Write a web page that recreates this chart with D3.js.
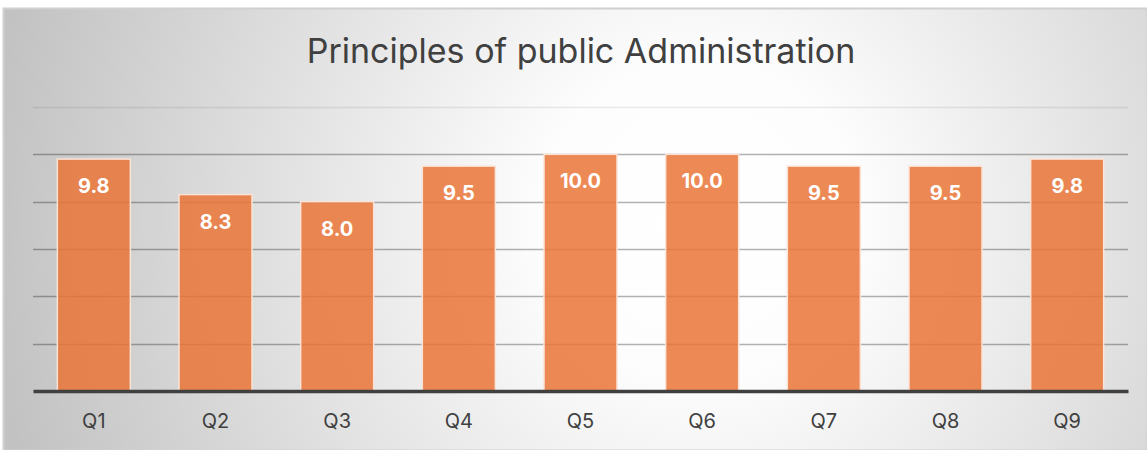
<!DOCTYPE html>
<html>
<head>
<meta charset="utf-8">
<script src="https://cdn.jsdelivr.net/npm/d3@7"></script>
<style>
  body { margin: 0; background: #fff; }
  svg { display: block; font-family: Inter, "Noto Sans", Arial, sans-serif; }
</style>
</head>
<body>
<script>
// Chart data
var categories = ["Q1", "Q2", "Q3", "Q4", "Q5", "Q6", "Q7", "Q8", "Q9"];
var scores = [9.8, 8.3, 8.0, 9.5, 10.0, 10.0, 9.5, 9.5, 9.8];
var yTicks = [0, 2, 4, 6, 8, 10, 12];
var chartTitle = "Principles of public Administration";

var svgWidth = 1147;
var svgHeight = 450;

// Plot area inside the frame
var margin = { top: 107, right: 19, bottom: 59, left: 33 };
var chartWidth = svgWidth - margin.left - margin.right;
var chartHeight = svgHeight - margin.top - margin.bottom;

var svg = d3.select("body")
  .append("svg")
  .attr("width", svgWidth)
  .attr("height", svgHeight);

// Radial gradient background
var defs = svg.append("defs");
var grad = defs.append("radialGradient")
  .attr("id", "bg")
  .attr("gradientUnits", "userSpaceOnUse")
  .attr("cx", 700).attr("cy", 220).attr("r", 720);
grad.append("stop").attr("offset", "0%").attr("stop-color", "#ffffff");
grad.append("stop").attr("offset", "22%").attr("stop-color", "#fdfdfd");
grad.append("stop").attr("offset", "100%").attr("stop-color", "#c2c2c2");

svg.append("rect")
  .attr("x", 3.5).attr("y", 8.5)
  .attr("width", svgWidth - 3).attr("height", svgHeight - 8)
  .attr("fill", "url(#bg)")
  .attr("stroke", "#d0d0d0")
  .attr("stroke-width", 2);

var chartGroup = svg.append("g")
  .attr("transform", `translate(${margin.left}, ${margin.top})`);

var xScale = d3.scaleBand()
  .domain(categories)
  .range([0, chartWidth])
  .paddingInner(0.4)
  .paddingOuter(0.2);

var yScale = d3.scaleLinear()
  .domain([0, 12])
  .range([chartHeight, 0]);

// Gridlines
chartGroup.append("g")
  .selectAll("line")
  .data(yTicks.filter(d => d > 0))
  .enter()
  .append("line")
  .attr("x1", 0)
  .attr("x2", chartWidth)
  .attr("y1", d => Math.round(yScale(d)) + 0.5)
  .attr("y2", d => Math.round(yScale(d)) + 0.5)
  .attr("stroke", "#000")
  .attr("stroke-opacity", d => d === 12 ? 0.08 : 0.3)
  .attr("stroke-width", 1.5);

// Bars
chartGroup.append("g")
  .selectAll("rect")
  .data(scores)
  .enter()
  .append("rect")
  .attr("x", (d, i) => xScale(categories[i]))
  .attr("y", d => yScale(d))
  .attr("width", xScale.bandwidth())
  .attr("height", d => chartHeight - yScale(d))
  .attr("fill", "#ea7437")
  .attr("fill-opacity", 0.85)
  .attr("stroke", "#fbe3d6")
  .attr("stroke-width", 1.5);

// Value labels
chartGroup.append("g")
  .selectAll("text")
  .data(scores)
  .enter()
  .append("text")
  .attr("x", (d, i) => xScale(categories[i]) + xScale.bandwidth() / 2)
  .attr("y", d => yScale(d) + 34)
  .attr("text-anchor", "middle")
  .attr("fill", "#ffffff")
  .attr("font-weight", "bold")
  .attr("font-size", "20px")
  .text(d => d.toFixed(1));

// X axis
var bottomAxis = d3.axisBottom(xScale).tickSize(0).tickPadding(23);
var xAxis = chartGroup.append("g")
  .attr("transform", `translate(0, ${chartHeight})`)
  .call(bottomAxis);
xAxis.select(".domain")
  .attr("stroke", "#404040")
  .attr("stroke-width", 3.5);
xAxis.selectAll("text")
  .attr("fill", "#404040")
  .attr("font-size", "20px")
  .attr("font-family", "Inter, Noto Sans, Arial, sans-serif");

// Title
svg.append("text")
  .attr("x", 581)
  .attr("y", 63)
  .attr("text-anchor", "middle")
  .attr("fill", "#404040")
  .attr("font-size", "34px")
  .text(chartTitle);
</script>
</body>
</html>
